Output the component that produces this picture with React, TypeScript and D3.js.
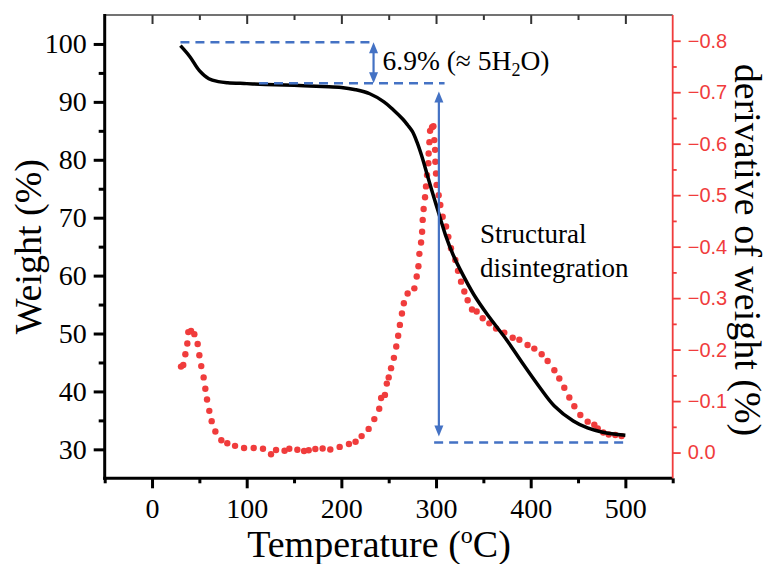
import React, { useEffect, useRef } from 'react';
import * as d3 from 'd3';

// weight curve (TGA)
const tempW = [30, 40, 50, 60, 70, 80, 100, 120, 150, 180, 200, 215, 230, 245, 255, 265, 270, 275, 280, 285, 290, 295, 300, 305, 310, 318, 325, 340, 355, 375, 390, 410, 425, 445, 460, 475, 490, 500];
const weight = [99.7, 97.8, 95.4, 94.0, 93.5, 93.3, 93.15, 93.0, 92.85, 92.65, 92.5, 92.1, 91.4, 90.0, 88.6, 87.0, 86.0, 84.9, 83.0, 80.6, 77.8, 75.0, 72.3, 69.6, 67.0, 63.6, 61.2, 56.7, 53.1, 48.8, 45.2, 40.6, 37.5, 34.9, 33.7, 33.0, 32.6, 32.45];

// derivative (DTG) points
const tempD = [30.6, 33, 35.2, 37.3, 38.3, 41.2, 44.7, 48.2, 50, 52, 54.5, 56.3, 58.1, 60.5, 63, 66.9, 73.2, 79.5, 87.7, 97.2,
  107.4, 117.2, 125.7, 131, 140, 145, 153.5, 160.6, 165.5, 172.5, 180.2, 188.3, 198.2, 208, 215, 221.4, 228.8, 234.8, 240, 242,
  246, 248, 250, 252.5, 255.5, 258, 260, 261.8, 264, 266, 270, 277.1, 279.6, 281.4, 282.4, 284.2, 285.3, 285.9, 286.9, 288.4,
  289.4, 290.5, 291.9, 292.2, 293, 293.7, 295.8, 297.2, 298.2, 299, 299.3, 300, 300.6, 302.8, 304.5, 307, 310.6, 313, 315.8, 320.4,
  323.2, 326.4, 329.9, 333.4, 338, 342.9, 349.3, 356.3, 363.4, 372.1, 381, 388, 396.7, 403.8, 411.6, 417.9, 425, 430.2, 435.5, 440.8,
  446.1, 452.4, 460.2, 467.2, 470.8, 476.7, 482.4, 489.4, 496];
const dtg = [-0.167, -0.170, -0.191, -0.212, -0.234, -0.236, -0.230, -0.211, -0.189, -0.168, -0.146, -0.124, -0.103, -0.081, -0.061, -0.041, -0.024, -0.018, -0.013, -0.009,
  -0.009, -0.0075, 0.0034, -0.005, -0.0036, -0.0075, -0.0056, -0.003, -0.0044, -0.007, -0.008, -0.006, -0.011, -0.0167, -0.021, -0.032, -0.046, -0.065, -0.085, -0.106,
  -0.112, -0.134, -0.146, -0.164, -0.184, -0.206, -0.227, -0.248, -0.270, -0.290, -0.309, -0.319, -0.342, -0.362, -0.386, -0.408, -0.429, -0.452, -0.473, -0.496,
  -0.517, -0.539, -0.562, -0.581, -0.603, -0.625, -0.632, -0.634, -0.607, -0.588, -0.565, -0.542, -0.520, -0.500, -0.481, -0.458, -0.439, -0.419, -0.397, -0.374,
  -0.353, -0.332, -0.313, -0.296, -0.278, -0.274, -0.261, -0.251, -0.241, -0.233, -0.223, -0.219, -0.209, -0.202, -0.191, -0.178, -0.160, -0.144, -0.126, -0.107,
  -0.090, -0.073, -0.060, -0.054, -0.047, -0.039, -0.035, -0.034, -0.032];

const xTicks = [0, 100, 200, 300, 400, 500];
const xMinor = [-50, 50, 150, 250, 350, 450, 550];
const yTicks = [30, 40, 50, 60, 70, 80, 90, 100];
const yMinor = [35, 45, 55, 65, 75, 85, 95];
const dTicks = [0, -0.1, -0.2, -0.3, -0.4, -0.5, -0.6, -0.7, -0.8];
const dMinor = [-0.05, -0.15, -0.25, -0.35, -0.45, -0.55, -0.65, -0.75];

// annotation values (temperature, weight)
const waterTop = 100.3;
const waterLevel = 93.2;
const residue = 31.2;
const waterArrowT = 234;
const decompArrowT = 303;

const BLUE = '#4472c4';
const RED = '#f03c3c';
const SERIF = '"Liberation Serif", "Times New Roman", serif';
const SANS = '"Liberation Sans", Arial, sans-serif';

const App = () => {
    const ref = useRef(null);

    useEffect(() => {
        const svg = d3.select(ref.current);
        svg.selectAll('*').remove();

        const left = 104.7, right = 672.7, top = 15, bottom = 478.3;
        const x = d3.scaleLinear().domain([-50, 550]).range([left, right]);
        const y = d3.scaleLinear().domain([25, 105]).range([bottom, top]);
        const yd = d3.scaleLinear().domain([0.05, -0.85]).range([bottom, top]);

        // top axis (inward ticks, no labels)
        const gTop = svg.append('g').attr('transform', `translate(0,${top})`);
        gTop.call(d3.axisBottom(x).tickValues(xTicks).tickSize(9).tickSizeOuter(0).tickFormat(() => ''));
        gTop.append('g').call(d3.axisBottom(x).tickValues(xMinor.slice(1, -1)).tickSize(5).tickSizeOuter(0).tickFormat(() => ''));
        gTop.selectAll('path.domain').remove();
        gTop.selectAll('line').attr('stroke', '#333').attr('stroke-width', 2);
        svg.append('line').attr('x1', left).attr('x2', right).attr('y1', top).attr('y2', top)
            .attr('stroke', '#444').attr('stroke-width', 1.6);

        // bottom axis
        const gB = svg.append('g').attr('transform', `translate(0,${bottom})`);
        gB.call(d3.axisBottom(x).tickValues(xTicks).tickSize(10).tickPadding(10).tickSizeOuter(0));
        gB.append('g').call(d3.axisBottom(x).tickValues(xMinor).tickSize(5).tickSizeOuter(0).tickFormat(() => ''));
        gB.selectAll('path.domain').remove();
        gB.selectAll('line').attr('stroke', '#000').attr('stroke-width', 3);
        gB.selectAll('text').attr('font-family', SERIF).attr('font-size', 28).attr('fill', '#000');

        // left axis
        const gL = svg.append('g').attr('transform', `translate(${left},0)`);
        gL.call(d3.axisLeft(y).tickValues(yTicks).tickSize(11).tickPadding(7).tickSizeOuter(0));
        gL.append('g').call(d3.axisLeft(y).tickValues(yMinor).tickSize(6).tickSizeOuter(0).tickFormat(() => ''));
        gL.selectAll('path.domain').remove();
        gL.selectAll('line').attr('stroke', '#000').attr('stroke-width', 3);
        gL.selectAll('text').attr('font-family', SERIF).attr('font-size', 28).attr('fill', '#000');

        // right axis (red)
        const gR = svg.append('g').attr('transform', `translate(${right},0)`);
        gR.call(d3.axisRight(yd).tickValues(dTicks).tickSize(8).tickPadding(7).tickSizeOuter(0).tickFormat(d3.format('.1f')));
        gR.append('g').call(d3.axisRight(yd).tickValues(dMinor).tickSize(4).tickSizeOuter(0).tickFormat(() => ''));
        gR.selectAll('path.domain').remove();
        gR.selectAll('line').attr('stroke', RED).attr('stroke-width', 1.8);
        gR.selectAll('text').attr('font-family', SANS).attr('font-size', 20).attr('fill', RED);

        svg.append('line').attr('x1', left).attr('x2', left).attr('y1', top - 1).attr('y2', bottom + 1.5)
            .attr('stroke', '#000').attr('stroke-width', 3);
        svg.append('line').attr('x1', left - 1.5).attr('x2', right).attr('y1', bottom).attr('y2', bottom)
            .attr('stroke', '#000').attr('stroke-width', 3);
        svg.append('line').attr('x1', right).attr('x2', right).attr('y1', top).attr('y2', bottom)
            .attr('stroke', RED).attr('stroke-width', 1.8);

        // DTG dots
        svg.append('g').selectAll('circle')
            .data(tempD.map((t, i) => [t, dtg[i]]))
            .enter().append('circle')
            .attr('cx', d => x(d[0]))
            .attr('cy', d => yd(d[1]))
            .attr('r', 3.2)
            .attr('fill', RED);

        // weight line
        const line = d3.line()
            .x(d => x(d[0]))
            .y(d => y(d[1]))
            .curve(d3.curveCatmullRom.alpha(0.5));
        svg.append('path')
            .datum(tempW.map((t, i) => [t, weight[i]]))
            .attr('fill', 'none')
            .attr('stroke', '#000')
            .attr('stroke-width', 3.5)
            .attr('d', line);

        // annotations
        const dash = (t1, t2, w) => svg.append('line')
            .attr('x1', x(t1)).attr('x2', x(t2)).attr('y1', y(w)).attr('y2', y(w))
            .attr('stroke', BLUE).attr('stroke-width', 2.5).attr('stroke-dasharray', '9 6');
        dash(30, 234, waterTop);
        dash(113, 309, waterLevel);
        dash(298, 499, residue);

        const head = (cx, tipY, dir) => {
            const h = 11 * dir, w = 4.5;
            svg.append('path')
                .attr('d', `M${cx},${tipY}L${cx - w},${tipY + h}L${cx + w},${tipY + h}Z`)
                .attr('fill', BLUE);
        };
        const arrow = (t, wTop, wBot) => {
            const cx = x(t), y1 = y(wTop), y2 = y(wBot);
            svg.append('line').attr('x1', cx).attr('x2', cx).attr('y1', y1 + 8).attr('y2', y2 - 8)
                .attr('stroke', BLUE).attr('stroke-width', 2.2);
            head(cx, y1, 1);
            head(cx, y2, -1);
        };
        arrow(waterArrowT, waterTop, waterLevel);
        arrow(decompArrowT, 91.8, 32.2);

        const lbl = svg.append('text')
            .attr('x', 382.5).attr('y', 70)
            .attr('font-family', SERIF).attr('font-size', 27.5).attr('fill', '#000');
        lbl.append('tspan').text('6.9% (≈ 5H');
        lbl.append('tspan').attr('font-size', 18).attr('dy', 6).text('2');
        lbl.append('tspan').attr('dy', -6).text('O)');

        svg.append('text').attr('x', 480).attr('y', 243)
            .attr('font-family', SERIF).attr('font-size', 27).text('Structural');
        svg.append('text').attr('x', 480).attr('y', 276.5)
            .attr('font-family', SERIF).attr('font-size', 27).text('disintegration');

        // axis titles
        const xt = svg.append('text').attr('x', 379).attr('y', 556.5)
            .attr('text-anchor', 'middle')
            .attr('font-family', SERIF).attr('font-size', 38);
        xt.append('tspan').text('Temperature (');
        xt.append('tspan').attr('font-size', 24).attr('dy', -14).text('o');
        xt.append('tspan').attr('dy', 14).text('C)');

        svg.append('text')
            .attr('transform', `translate(40.5,${(top + bottom) / 2}) rotate(-90)`)
            .attr('text-anchor', 'middle')
            .attr('font-family', SERIF).attr('font-size', 38)
            .text('Weight (%)');

        svg.append('text')
            .attr('transform', `translate(735,250) rotate(90)`)
            .attr('text-anchor', 'middle')
            .attr('font-family', SERIF).attr('font-size', 38)
            .text('derivative of weight (%)');
    }, []);

    return (
        <svg ref={ref} width={771} height={564}
            style={{ position: 'absolute', left: 0, top: 0, background: '#fff' }} />
    );
};

export default App;
